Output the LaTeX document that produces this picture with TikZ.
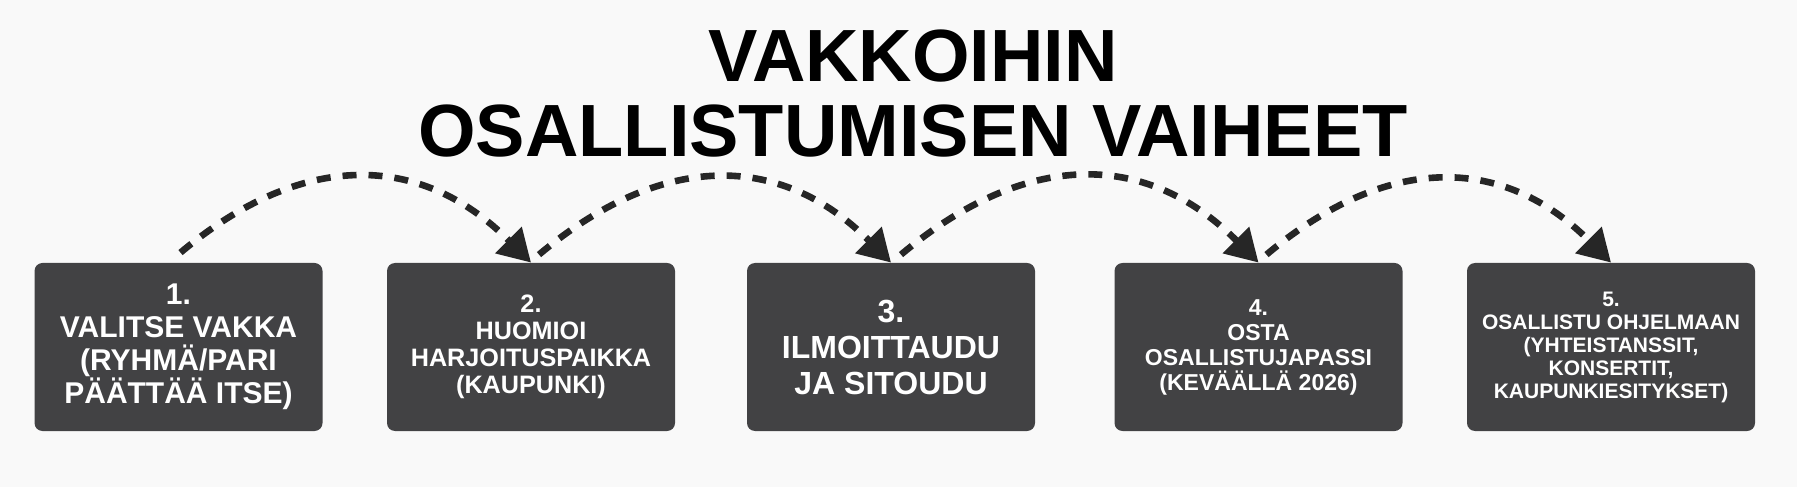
\documentclass[tikz,border=0pt]{standalone}
\usepackage{fontspec}
\setmainfont{Liberation Sans}
\usepackage{tikz}
\usetikzlibrary{arrows.meta}
\usetikzlibrary{calc, backgrounds}
\definecolor{boxgrey}{HTML}{424244}
\definecolor{pagegrey}{HTML}{F9F9F9}
\definecolor{inkgrey}{HTML}{262626}
\tikzset{
stage/.style = { rectangle, draw = none, fill = boxgrey, text = white, minimum width = 144pt, minimum height = 84pt, rounded corners = 4pt, align = center, inner sep = 0pt },
flow/.style = { draw = inkgrey, line width = 3.3pt, dash pattern = on 7pt off 6pt, -{Triangle[length = 16pt, width = 18pt]} },
heading/.style = { text = black, anchor = base, font = \bfseries\fontsize{37pt}{37.5pt}\selectfont },
}

\begin{document}
\begin{tikzpicture}[x = 0.5pt, y = 0.5pt]
    \useasboundingbox (0, 0) rectangle (1797, 487);
    \fill[pagegrey] (0, 0) rectangle (1797, 487);
    \node[heading] (title top) at (913, 405) {VAKKOIHIN};
    \node[heading] (title bottom) at (913, 330) {OSALLISTUMISEN VAIHEET};
    \node[stage, font = \bfseries\fontsize{15pt}{16.5pt}\selectfont] (s1) at (178.5, 140) {1.\\VALITSE VAKKA\\(RYHMÄ/PARI\\PÄÄTTÄÄ ITSE)};
    \node[stage, font = \bfseries\fontsize{12.6pt}{13.5pt}\selectfont] (s2) at (531, 140) {2.\\HUOMIOI\\HARJOITUSPAIKKA\\(KAUPUNKI)};
    \node[stage, font = \bfseries\fontsize{16pt}{18pt}\selectfont] (s3) at (891, 140) {3.\\ILMOITTAUDU\\JA SITOUDU};
    \node[stage, font = \bfseries\fontsize{11.5pt}{12.5pt}\selectfont] (s4) at (1258.5, 140) {4.\\OSTA\\OSALLISTUJAPASSI\\(KEVÄÄLLÄ 2026)};
    \node[stage, font = \bfseries\fontsize{10.5pt}{11.5pt}\selectfont] (s5) at (1611, 140) {5.\\OSALLISTU OHJELMAAN\\(YHTEISTANSSIT,\\KONSERTIT,\\KAUPUNKIESITYKSET)};
    \draw[flow] ($(s1.north) + (2, 10)$) to[out = 40, in = 135, looseness = 1.15] (s2.north);
    \draw[flow] ($(s2.north) + (8, 8)$) to[out = 40, in = 135, looseness = 1.15] (s3.north);
    \draw[flow] ($(s3.north) + (10, 8)$) to[out = 40, in = 135, looseness = 1.15] (s4.north);
    \draw[flow] ($(s4.north) + (8, 8)$) to[out = 40, in = 135, looseness = 1.15] (s5.north);
\end{tikzpicture}
\end{document}
